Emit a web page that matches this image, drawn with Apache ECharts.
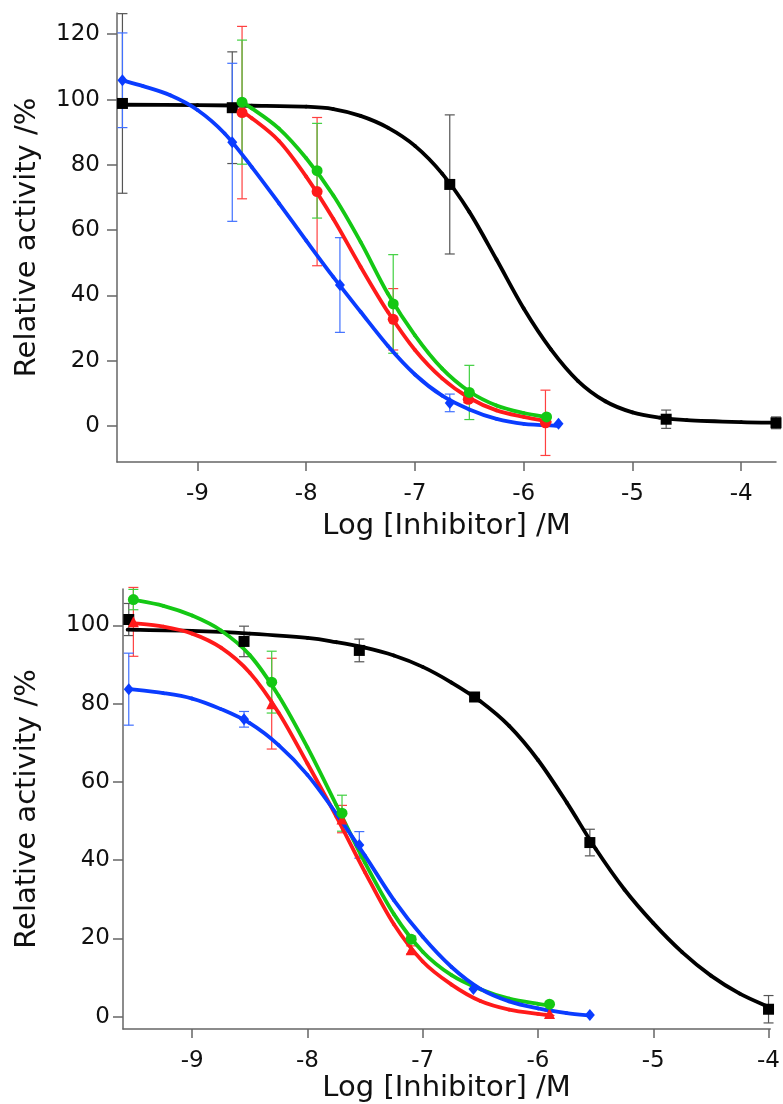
<!DOCTYPE html>
<html>
<head>
<meta charset="utf-8">
<title>Inhibition curves</title>
<script src="https://cdn.jsdelivr.net/npm/echarts@6.0.0/dist/echarts.min.js"></script>
<style>
  html, body { margin: 0; padding: 0; background: #fff; }
  #e1 { width: 783px; height: 1104px; }
</style>
</head>
<body>
<div id="e1"></div>
<script>
// tick labels
var xTicks = [-9, -8, -7, -6, -5, -4];
var yTicksTop = [0, 20, 40, 60, 80, 100, 120];
var yTicksBottom = [0, 20, 40, 60, 80, 100];

// measured points: [log conc, activity %, error]
var topBlack = [[-9.69, 98.8, 27.5], [-8.68, 97.5, 17.1], [-6.68, 74.0, 21.3], [-4.69, 2.1, 2.8], [-3.68, 1.0, 1.8]];
var topRed   = [[-8.59, 96.0, 26.4], [-7.90, 71.8, 22.7], [-7.20, 32.7, 9.4], [-6.51, 8.2, 1.0], [-5.80, 1.0, 10.0]];
var topGreen = [[-8.59, 99.2, 19.0], [-7.90, 78.2, 14.5], [-7.20, 37.4, 15.1], [-6.50, 10.3, 8.3], [-5.79, 2.8, 0]];
var topBlue  = [[-9.69, 105.9, 14.5], [-8.68, 86.9, 24.2], [-7.69, 43.2, 14.5], [-6.68, 7.1, 2.7], [-5.68, 0.7, 0]];

var botBlack = [[-9.55, 101.5, 4.1], [-8.55, 95.9, 3.9], [-7.55, 93.6, 2.9], [-6.55, 81.7, 0.8], [-5.55, 44.5, 3.4], [-4.0, 1.9, 3.5]];
var botRed   = [[-9.51, 100.9, 8.8], [-8.31, 80.0, 11.6], [-7.70, 50.5, 3.5], [-7.10, 17.1, 1.0], [-5.90, 0.8, 0.5]];
var botGreen = [[-9.51, 106.6, 2.6], [-8.31, 85.5, 7.9], [-7.70, 52.0, 4.6], [-7.10, 19.8, 0.8], [-5.90, 3.2, 0]];
var botBlue  = [[-9.55, 83.7, 9.2], [-8.55, 76.0, 2.0], [-7.55, 43.9, 3.4], [-6.56, 7.1, 0], [-5.55, 0.4, 0]];

// fitted curves
var topBlackFit = [[-9.69, 98.4], [-9.0, 98.3], [-8.5, 98.1], [-8.0, 97.8], [-7.75, 97.1], [-7.5, 95.0], [-7.25, 91.4], [-7.0, 85.8], [-6.75, 77.3], [-6.5, 65.6], [-6.25, 51.0], [-6.0, 36.0], [-5.75, 23.5], [-5.5, 13.8], [-5.25, 7.6], [-5.0, 4.2], [-4.75, 2.6], [-4.5, 1.8], [-4.0, 1.2], [-3.68, 1.0]];
var topGreenFit = [[-8.59, 99.0], [-8.5, 97.3], [-8.25, 91.1], [-8.0, 82.0], [-7.75, 70.6], [-7.5, 56.4], [-7.25, 40.6], [-7.0, 27.8], [-6.75, 17.6], [-6.5, 10.6], [-6.25, 6.3], [-6.0, 4.0], [-5.79, 2.8]];
var topRedFit   = [[-8.59, 96.2], [-8.5, 94.3], [-8.25, 87.3], [-8.0, 76.4], [-7.75, 63.4], [-7.5, 48.8], [-7.25, 35.0], [-7.0, 23.3], [-6.75, 14.6], [-6.5, 8.6], [-6.25, 4.8], [-6.0, 2.8], [-5.76, 1.3]];
var topBlueFit  = [[-9.69, 105.9], [-9.5, 104.1], [-9.25, 101.3], [-9.0, 96.8], [-8.75, 89.6], [-8.5, 79.3], [-8.25, 68.2], [-8.0, 56.8], [-7.75, 45.6], [-7.5, 35.0], [-7.25, 24.6], [-7.0, 15.8], [-6.75, 9.3], [-6.5, 5.1], [-6.25, 2.2], [-6.0, 0.7], [-5.70, 0.1]];

var botBlackFit = [[-9.56, 98.9], [-9.0, 98.6], [-8.5, 97.9], [-8.0, 96.8], [-7.75, 95.7], [-7.5, 94.3], [-7.25, 92.3], [-7.0, 89.4], [-6.75, 85.4], [-6.5, 80.6], [-6.25, 74.3], [-6.0, 65.6], [-5.75, 54.7], [-5.5, 42.9], [-5.25, 32.5], [-5.0, 23.9], [-4.75, 16.5], [-4.5, 10.5], [-4.25, 5.9], [-4.0, 2.5]];
var botGreenFit = [[-9.52, 106.6], [-9.25, 105.0], [-9.0, 102.5], [-8.75, 98.7], [-8.5, 92.4], [-8.25, 82.0], [-8.0, 68.8], [-7.75, 54.1], [-7.5, 39.3], [-7.25, 26.2], [-7.0, 16.6], [-6.75, 10.6], [-6.5, 7.0], [-6.25, 4.6], [-6.0, 3.3], [-5.90, 2.9]];
var botRedFit   = [[-9.52, 100.6], [-9.25, 99.7], [-9.0, 97.9], [-8.75, 94.3], [-8.5, 87.9], [-8.25, 77.7], [-8.0, 64.7], [-7.75, 51.2], [-7.5, 36.9], [-7.25, 23.6], [-7.0, 14.1], [-6.75, 8.2], [-6.5, 4.0], [-6.25, 1.8], [-6.0, 0.7], [-5.88, 0.3]];
var botBlueFit  = [[-9.56, 83.8], [-9.25, 82.7], [-9.0, 81.3], [-8.75, 78.6], [-8.5, 75.0], [-8.25, 69.4], [-8.0, 61.8], [-7.75, 51.9], [-7.5, 41.1], [-7.25, 29.8], [-7.0, 20.4], [-6.75, 12.7], [-6.5, 7.1], [-6.25, 3.9], [-6.0, 2.1], [-5.75, 0.9], [-5.55, 0.3]];

var BLACK = '#000000', RED = '#ff1a1a', GREEN = '#14c814', BLUE = '#0a3cff';
var BAR_BLACK = '#555555', BAR_RED = '#ff4040', BAR_GREEN = '#40d040', BAR_BLUE = '#4070ff';
var FONT = 'DejaVu Sans';

function errorBars(pts, color, idx) {
  return {
    type: 'custom',
    xAxisIndex: idx, yAxisIndex: idx,
    z: 1,
    silent: true,
    data: pts,
    renderItem: function (params, api) {
      var x = api.value(0), y = api.value(1), e = api.value(2);
      if (!e) return null;
      var hi = api.coord([x, y + e]);
      var lo = api.coord([x, y - e]);
      var st = { stroke: color, lineWidth: 1.2 };
      return {
        type: 'group',
        children: [
          { type: 'line', shape: { x1: hi[0], y1: hi[1], x2: lo[0], y2: lo[1] }, style: st },
          { type: 'line', shape: { x1: hi[0] - 5, y1: hi[1], x2: hi[0] + 5, y2: hi[1] }, style: st },
          { type: 'line', shape: { x1: lo[0] - 5, y1: lo[1], x2: lo[0] + 5, y2: lo[1] }, style: st }
        ]
      };
    }
  };
}

// smooth fit curve: one cubic segment per data item (Catmull-Rom through the read points)
function fitLine(pts, color, idx) {
  return {
    type: 'custom',
    xAxisIndex: idx, yAxisIndex: idx,
    z: 2,
    silent: true,
    data: pts,
    renderItem: function (params, api) {
      var i = params.dataIndex, n = pts.length;
      if (i >= n - 1) return null;
      function c(k) { return api.coord(pts[Math.max(0, Math.min(n - 1, k))]); }
      var p0 = c(i - 1), p1 = c(i), p2 = c(i + 1), p3 = c(i + 2);
      return {
        type: 'bezierCurve',
        shape: {
          x1: p1[0], y1: p1[1], x2: p2[0], y2: p2[1],
          cpx1: p1[0] + (p2[0] - p0[0]) / 6, cpy1: p1[1] + (p2[1] - p0[1]) / 6,
          cpx2: p2[0] - (p3[0] - p1[0]) / 6, cpy2: p2[1] - (p3[1] - p1[1]) / 6
        },
        style: { stroke: color, lineWidth: 3.8, fill: null, lineCap: 'round' }
      };
    }
  };
}

function markers(pts, color, symbol, size, idx) {
  return {
    type: 'scatter',
    xAxisIndex: idx, yAxisIndex: idx,
    z: 3,
    silent: true,
    symbol: symbol,
    symbolSize: size,
    data: pts.map(function (p) { return [p[0], p[1]]; }),
    itemStyle: { color: color, opacity: 1 }
  };
}

function xAxisOf(idx, min, max, gap) {
  return {
    type: 'value', gridIndex: idx, min: min, max: max,
    name: 'Log [Inhibitor] /M', nameLocation: 'middle', nameGap: gap,
    nameTextStyle: { fontFamily: FONT, fontSize: 29, color: '#111' },
    axisLine: { show: true, onZero: false, lineStyle: { color: '#666', width: 1.5 } },
    axisTick: { show: true, length: 9, customValues: xTicks, lineStyle: { color: '#666', width: 1.5 } },
    axisLabel: { customValues: xTicks, margin: 21, fontFamily: FONT, fontSize: 23, color: '#111' },
    splitLine: { show: false }
  };
}

function yAxisOf(idx, min, max, ticks, gap, margin) {
  return {
    type: 'value', gridIndex: idx, min: min, max: max,
    name: 'Relative activity /%', nameLocation: 'middle', nameGap: gap,
    nameTextStyle: { fontFamily: FONT, fontSize: 29, color: '#111' },
    axisLine: { show: true, onZero: false, lineStyle: { color: '#666', width: 1.5 } },
    axisTick: { show: true, length: 10, customValues: ticks, lineStyle: { color: '#666', width: 1.5 } },
    axisLabel: { customValues: ticks, margin: margin, fontFamily: FONT, fontSize: 23, color: '#111' },
    splitLine: { show: false }
  };
}

var option = {
  animation: false,
  backgroundColor: '#fff',
  grid: [
    { left: 117, right: 7, top: 13, height: 449 },
    { left: 123, right: 11, top: 589, height: 440 }
  ],
  xAxis: [
    xAxisOf(0, -9.74, -3.68, 50),
    xAxisOf(1, -9.60, -3.985, 45)
  ],
  yAxis: [
    yAxisOf(0, -11, 126.5, yTicksTop, 75, 17),
    yAxisOf(1, -3.15, 109.3, yTicksBottom, 81, 13)
  ],
  series: [
    errorBars(topBlack, BAR_BLACK, 0),
    errorBars(topRed, BAR_RED, 0),
    errorBars(topGreen, BAR_GREEN, 0),
    errorBars(topBlue, BAR_BLUE, 0),
    fitLine(topBlackFit, BLACK, 0),
    fitLine(topBlueFit, BLUE, 0),
    fitLine(topRedFit, RED, 0),
    fitLine(topGreenFit, GREEN, 0),
    markers(topBlack, BLACK, 'rect', 11, 0),
    markers(topBlue, BLUE, 'diamond', [10, 12], 0),
    markers(topRed, RED, 'circle', 11, 0),
    markers(topGreen, GREEN, 'circle', 11, 0),

    errorBars(botBlack, BAR_BLACK, 1),
    errorBars(botRed, BAR_RED, 1),
    errorBars(botGreen, BAR_GREEN, 1),
    errorBars(botBlue, BAR_BLUE, 1),
    fitLine(botBlackFit, BLACK, 1),
    fitLine(botRedFit, RED, 1),
    fitLine(botGreenFit, GREEN, 1),
    fitLine(botBlueFit, BLUE, 1),
    markers(botBlack, BLACK, 'rect', 11, 1),
    markers(botRed, RED, 'triangle', 11, 1),
    markers(botGreen, GREEN, 'circle', 11, 1),
    markers(botBlue, BLUE, 'diamond', [10, 12], 1)
  ]
};

var chart = echarts.init(document.getElementById('e1'), null, { renderer: 'canvas' });
chart.setOption(option);
</script>
</body>
</html>
